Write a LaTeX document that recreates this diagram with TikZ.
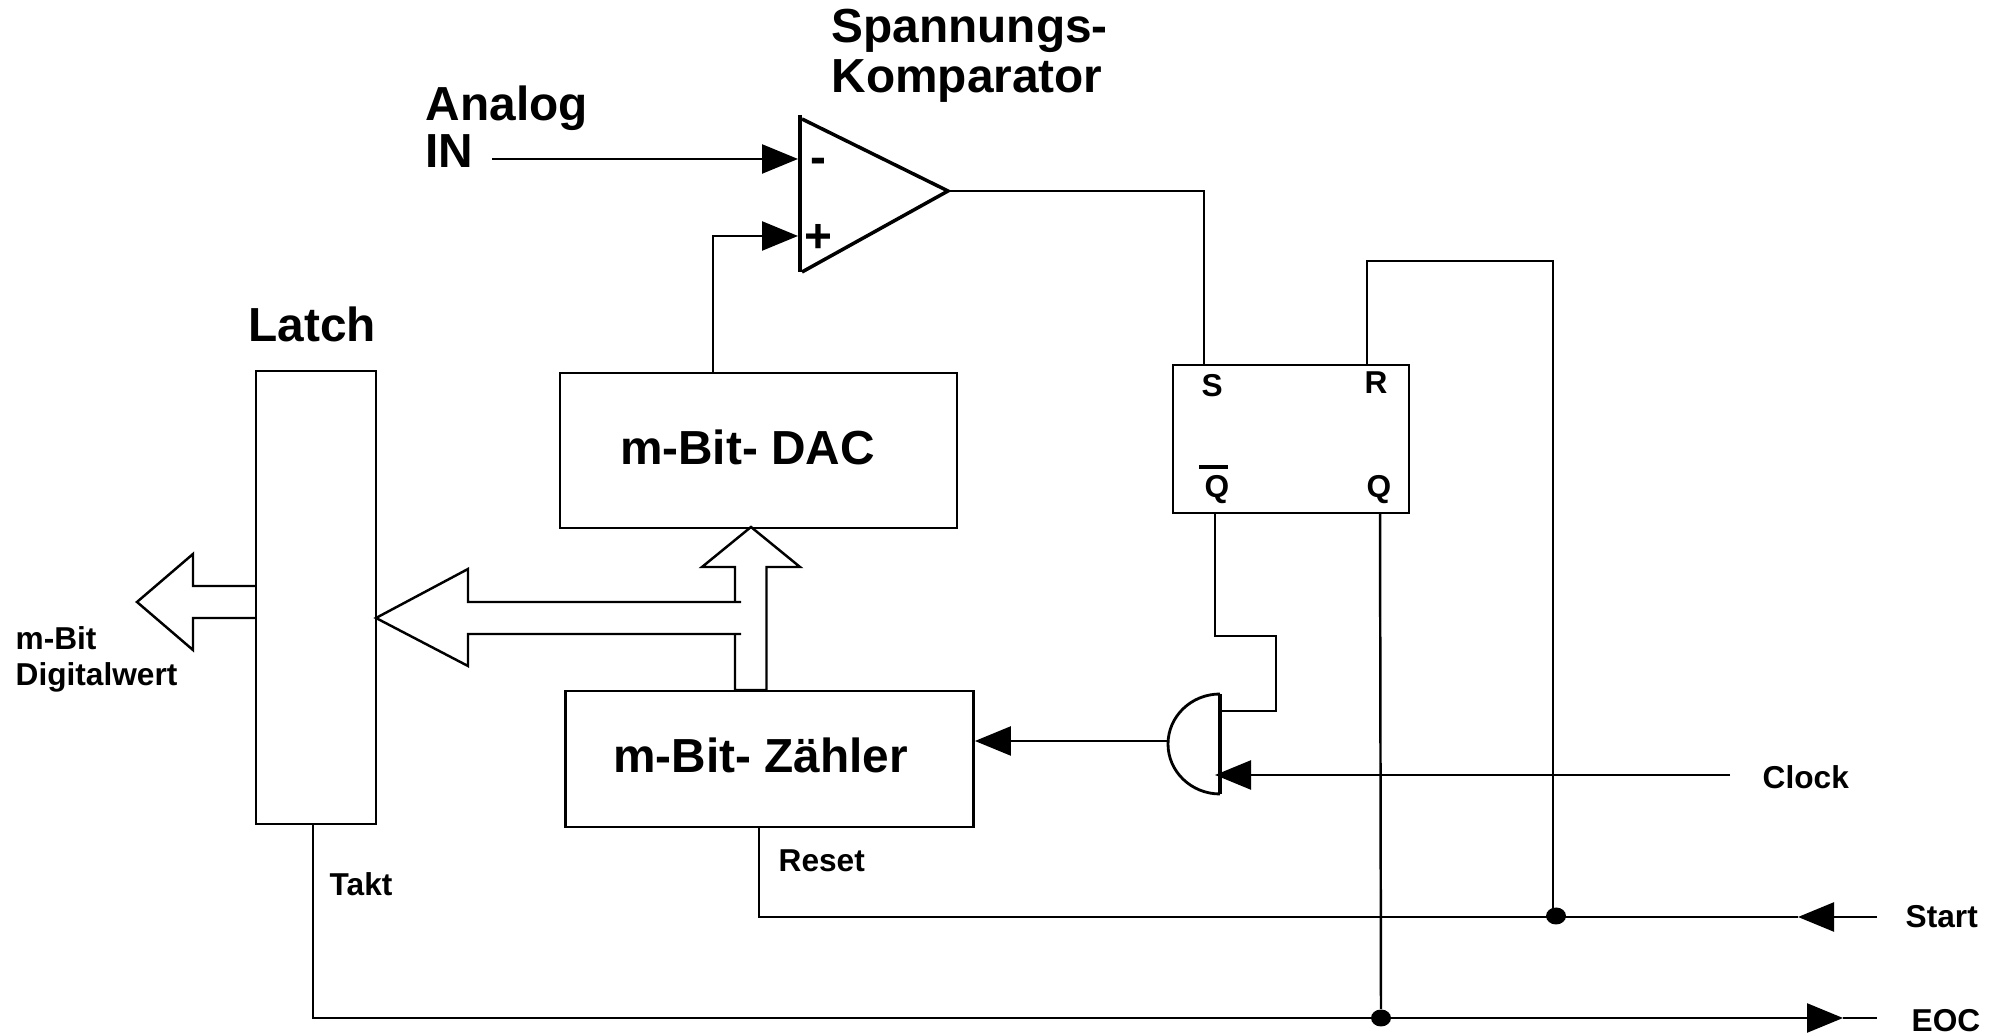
\documentclass[tikz,border=0pt]{standalone}
\usepackage{fontspec}
\setmainfont{Liberation Sans}
\usetikzlibrary{arrows.meta}
\usetikzlibrary{shapes.geometric}
\tikzset{
  wire/.style={line width=0.7pt},
  wiretip/.style={line width=0.7pt, -{Triangle[length=3.6mm,width=2.9mm]}},
  blockbox/.style={draw, line width=0.8pt, inner sep=0pt, text depth=0.07cm, font=\fontsize{13.6}{14.5}\selectfont\bfseries},
  biglabel/.style={inner sep=0pt, anchor=base west, align=left, font=\fontsize{13.6}{14.5}\selectfont\bfseries},
  smalllabel/.style={inner sep=0pt, anchor=base west, align=left, font=\fontsize{9}{10.5}\selectfont\bfseries},
  joindot/.style={ellipse, fill=black, inner sep=0pt, minimum width=0.2cm, minimum height=0.17cm},
  heavybar/.style={line width=1.4pt},
}
\begin{document}
\begin{tikzpicture}
  \useasboundingbox (0,0) rectangle (20.04,10.34);

  \node [blockbox, minimum width=1.20cm, minimum height=4.53cm] (latch) at (3.16,4.365) {};
  \node [blockbox, minimum width=3.97cm, minimum height=1.55cm] (dac) at (7.585,5.835) {m-Bit- DAC\kern0.22cm};
  \node [blockbox, minimum width=4.08cm, minimum height=1.36cm] (counter) at (7.695,2.75) {m-Bit- Zähler\kern0.18cm};
  \node [blockbox, minimum width=2.36cm, minimum height=1.48cm] (ff) at (12.91,5.95) {};

  \node [biglabel] (komplabel) at (8.31,9.41) {Spannungs-\\Komparator};
  \node [biglabel] (analoglabel) at (4.25,8.66) {Analog\\[-1pt]IN};
  \node [biglabel] (latchlabel) at (2.48,6.92) {Latch};
  \node [smalllabel] (digitallabel) at (0.15,3.48) {m-Bit\\Digitalwert};
  \node [smalllabel] (taktlabel) at (3.29,1.38) {Takt};
  \node [smalllabel] (resetlabel) at (7.78,1.62) {Reset};
  \node [smalllabel] (clocklabel) at (17.62,2.45) {Clock};
  \node [smalllabel] (startlabel) at (19.05,1.06) {Start};
  \node [smalllabel] (eoclabel) at (19.11,0.02) {EOC};

  \node [smalllabel] (slabel) at (12.01,6.37) {S};
  \node [smalllabel] (rlabel) at (13.64,6.40) {R};
  \node [smalllabel] (qbarlabel) at (12.04,5.36) {Q};
  \node [smalllabel] (qlabel) at (13.66,5.36) {Q};
  \draw [heavybar] (11.99,5.67) -- (12.28,5.67);

  % comparator
  \coordinate (optop) at (8.00,9.19);
  \coordinate (opbot) at (8.00,7.62);
  \coordinate (opslanttop) at (8.02,9.15);
  \coordinate (opslantbot) at (8.02,7.62);
  \coordinate (optip) at (9.48,8.43);
  \coordinate (opminus) at (7.98,8.75);
  \coordinate (opplus) at (7.98,7.98);
  \draw [line width=1pt] (opslanttop) -- (optip) -- (opslantbot);
  \draw [heavybar] (optop) -- (opbot);
  \node [biglabel, anchor=center] (minuslabel) at (8.18,8.68) {-};
  \node [biglabel, anchor=center] (pluslabel) at (8.18,7.95) {+};

  % gate
  \coordinate (gatetop) at (12.20,3.40);
  \coordinate (gatebot) at (12.20,2.40);
  \coordinate (gatein) at (12.20,3.23);
  \coordinate (gateclk) at (12.15,2.59);
  \coordinate (gateout) at (11.68,2.93);
  \draw [line width=0.8pt] (gatetop) arc [start angle=90, end angle=270, x radius=0.52, y radius=0.50];
  \draw [heavybar] (gatetop) -- (gatebot);

  \coordinate (analogfree) at (4.92,8.75);
  \coordinate (dacout) at (7.13,6.61);
  \coordinate (ffset) at (12.04,6.69);
  \coordinate (ffreset) at (13.67,6.69);
  \coordinate (ffqbar) at (12.15,5.21);
  \coordinate (ffq) at (13.80,5.21);
  \coordinate (qbarcorner) at (12.76,3.98);
  \coordinate (resettop) at (15.53,7.73);
  \coordinate (clockfree) at (17.30,2.59);
  \coordinate (startfree) at (18.77,1.17);
  \coordinate (starttip) at (17.98,1.17);
  \coordinate (eocfree) at (18.77,0.16);
  \coordinate (eoctip) at (18.43,0.16);
  \coordinate (takt) at (3.13,2.10);
  \coordinate (reset) at (7.59,2.07);
  \node [joindot] (startdot) at (15.56,1.18) {};
  \node [joindot] (eocdot) at (13.81,0.16) {};

  \draw [wiretip] (analogfree) -- (opminus);
  \draw [wiretip] (dacout) |- (opplus);
  \draw [wire] (optip) -| (ffset);
  \draw [wire] (ffreset) |- (resettop) -- (resettop |- startdot);
  \draw [wire] (ffqbar) |- (qbarcorner) |- (gatein);
  \draw [wire] (ffq) -- (eocdot);
  \draw [wiretip] (gateout) -- (gateout -| counter.east);
  \draw [wiretip] (clockfree) -- (gateclk);
  \draw [wiretip] (startfree) -- (starttip);
  \draw [wire] (starttip) -| (reset);
  \draw [wiretip] (takt) |- (eoctip);
  \draw [wire] (eoctip) -- (eocfree);

  % bus arrows
  \draw [wire] (2.56,4.48) -- (1.93,4.48) -- (1.93,4.80) -- (1.37,4.32) -- (1.93,3.84) -- (1.93,4.16) -- (2.56,4.16);
  \draw [wire] (7.41,4.32) -- (4.68,4.32) -- (4.68,4.65) -- (3.76,4.16) -- (4.68,3.68) -- (4.68,4.00) -- (7.41,4.00);
  \draw [wire] (7.35,4.32) -- (7.35,4.67) -- (7.02,4.67) -- (7.51,5.07) -- (8.00,4.67) -- (7.665,4.67) -- (7.665,3.44) -- (7.35,3.44) -- (7.35,4.00);
\end{tikzpicture}
\end{document}
